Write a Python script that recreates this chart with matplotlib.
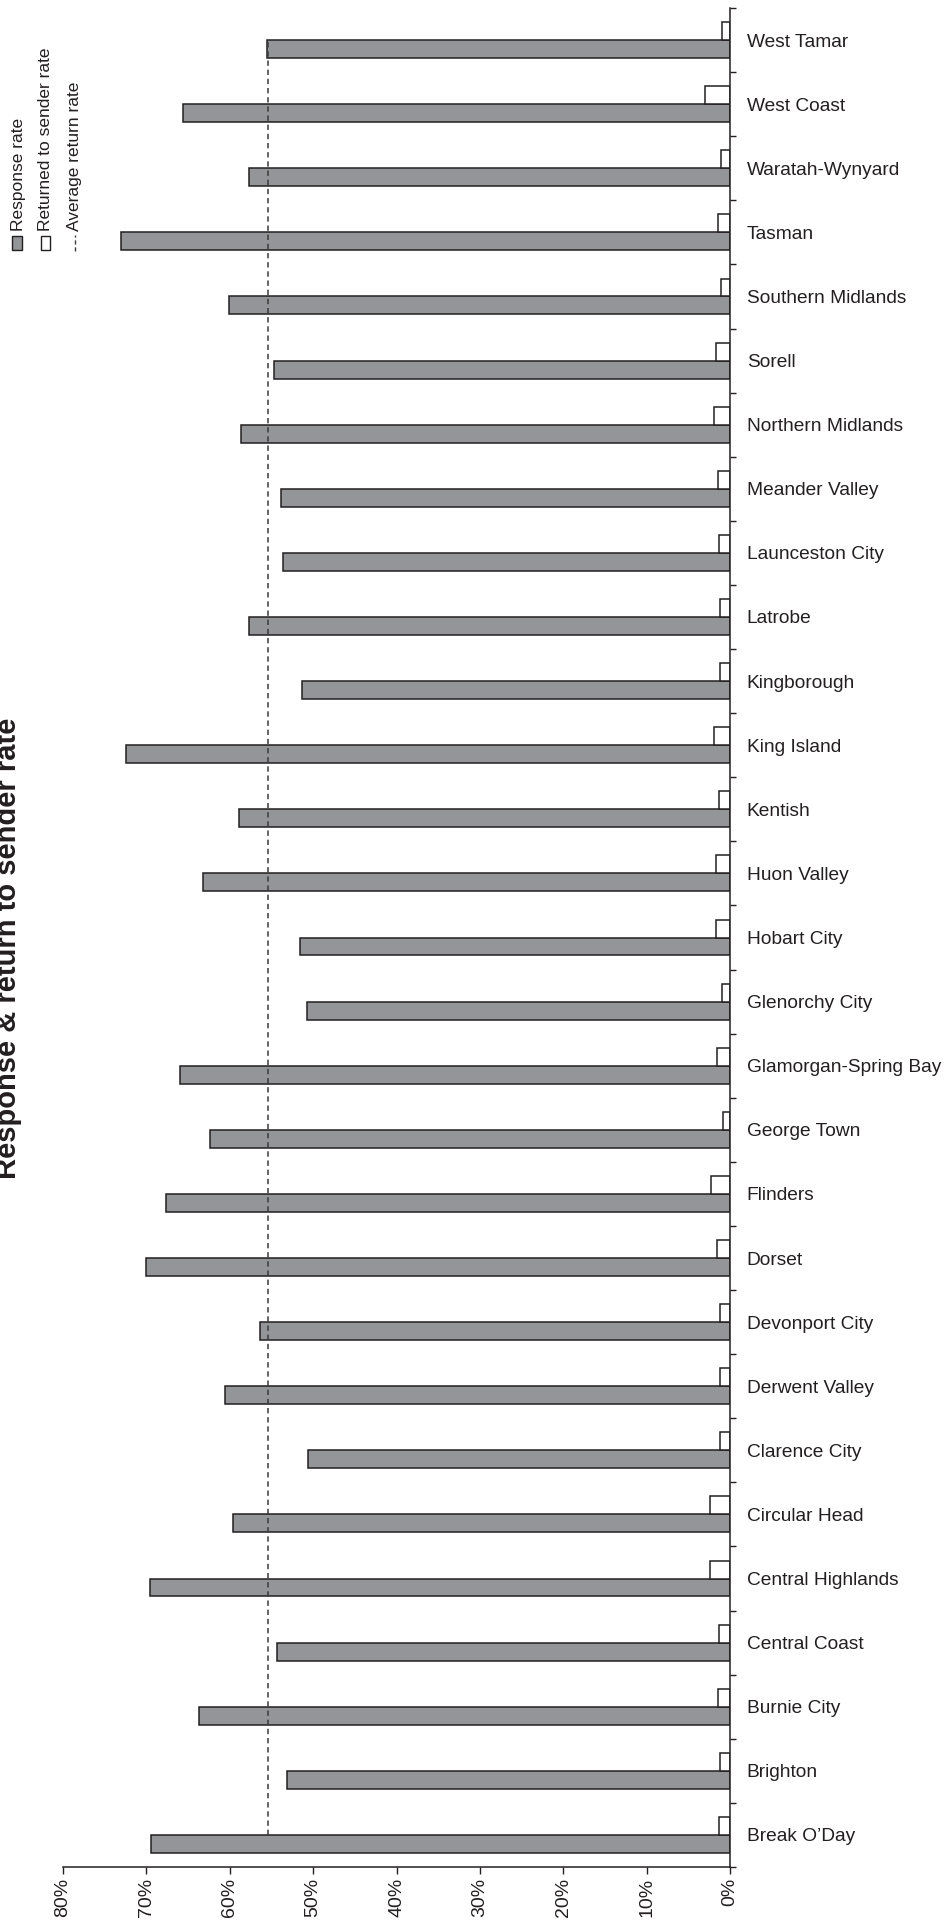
import matplotlib
matplotlib.use("Agg")
import matplotlib.pyplot as plt
from matplotlib.patches import Rectangle
from matplotlib.lines import Line2D
import numpy as np

plt.rcParams['font.family'] = ['Liberation Sans', 'DejaVu Sans']

# councils, bottom to top as drawn
councils = ["Break O\u2019Day", "Brighton", "Burnie City", "Central Coast",
            "Central Highlands", "Circular Head", "Clarence City",
            "Derwent Valley", "Devonport City", "Dorset", "Flinders",
            "George Town", "Glamorgan-Spring Bay", "Glenorchy City",
            "Hobart City", "Huon Valley", "Kentish", "King Island",
            "Kingborough", "Latrobe", "Launceston City", "Meander Valley",
            "Northern Midlands", "Sorell", "Southern Midlands", "Tasman",
            "Waratah-Wynyard", "West Coast", "West Tamar"]

# response rate (%)
response = [69.4, 53.1, 63.7, 54.3, 69.6, 59.6, 50.6, 60.6, 56.4, 70.0,
            67.6, 62.4, 66.0, 50.7, 51.6, 63.2, 58.9, 72.4, 51.3, 57.7,
            53.6, 53.8, 58.6, 54.7, 60.1, 73.1, 57.7, 65.6, 55.5]

# returned to sender rate (%)
returned = [1.3, 1.15, 1.4, 1.3, 2.4, 2.4, 1.15, 1.15, 1.15, 1.55,
            2.3, 0.85, 1.55, 1.0, 1.7, 1.7, 1.3, 1.9, 1.15, 1.15,
            1.3, 1.4, 1.9, 1.7, 1.1, 1.4, 1.1, 3.0, 1.0]

average_rate = 55.4
xticks = [80, 70, 60, 50, 40, 30, 20, 10, 0]

dark = '#231f20'
grey = '#939598'

W, H = 946, 1921
fig = plt.figure(figsize=(W / 100, H / 100), dpi=100)
ax = fig.add_axes([63 / W, 54 / H, 667 / W, 1859 / H])

y = np.arange(len(councils))
bh = 0.28
ax.barh(y - bh / 2, response, height=bh, color=grey, edgecolor=dark, linewidth=1.1, zorder=2)
ax.barh(y + bh / 2, returned, height=bh, color='white', edgecolor=dark, linewidth=1.1, zorder=2)
ax.vlines(average_rate, y[0], y[-1], colors='#3a3a3a', linestyles=(0, (3.5, 2.5)),
          linewidth=1.1, zorder=3)

ax.set_xlim(80, 0)
ax.set_ylim(-0.5, len(councils) - 0.5)

ax.set_xticks(xticks)
ax.set_xticklabels([f"{t}%" for t in xticks], rotation=90, fontsize=14, color=dark)
ax.tick_params(axis='x', direction='out', length=5, width=1, color=dark, pad=3)

ax.yaxis.tick_right()
ax.set_yticks(y)
ax.set_yticklabels(councils, fontsize=13.8, color=dark)
ax.set_yticks(np.arange(-0.5, len(councils), 1), minor=True)
ax.tick_params(axis='y', which='major', length=0, pad=12)
ax.tick_params(axis='y', which='minor', direction='out', length=4.5, width=1, color=dark)

for side in ['left', 'top']:
    ax.spines[side].set_visible(False)
for side in ['right', 'bottom']:
    ax.spines[side].set_color(dark)
    ax.spines[side].set_linewidth(1.1)

# title on the left, rotated (partly runs off the left edge, as in the source)
fig.text(22 / W, 1 - 948 / H, "Response & return to sender rate", rotation=90,
         ha='right', va='center', fontsize=21, fontweight='bold', color=dark)

# legend drawn by hand with rotated text
def fx(px):
    return px / W

def fy(py):
    return 1 - py / H

fig.add_artist(Rectangle((fx(12), fy(250)), 10 / W, 14 / H, facecolor=grey,
                         edgecolor=dark, linewidth=1, transform=fig.transFigure))
fig.add_artist(Rectangle((fx(41), fy(250)), 9 / W, 14 / H, facecolor='white',
                         edgecolor=dark, linewidth=1, transform=fig.transFigure))
fig.add_artist(Line2D([fx(75), fx(75)], [fy(251), fy(235)], color='#3a3a3a',
                      linestyle=(0, (3, 2)), linewidth=1, transform=fig.transFigure))
legend_labels = ["Response rate", "Returned to sender rate", "Average return rate"]
for xpx, lab in zip([18, 46, 75], legend_labels):
    fig.text(fx(xpx), fy(231), lab, rotation=90, ha='center', va='bottom',
             fontsize=12.5, color=dark)

fig.savefig("out.png", dpi=100, facecolor='white')
